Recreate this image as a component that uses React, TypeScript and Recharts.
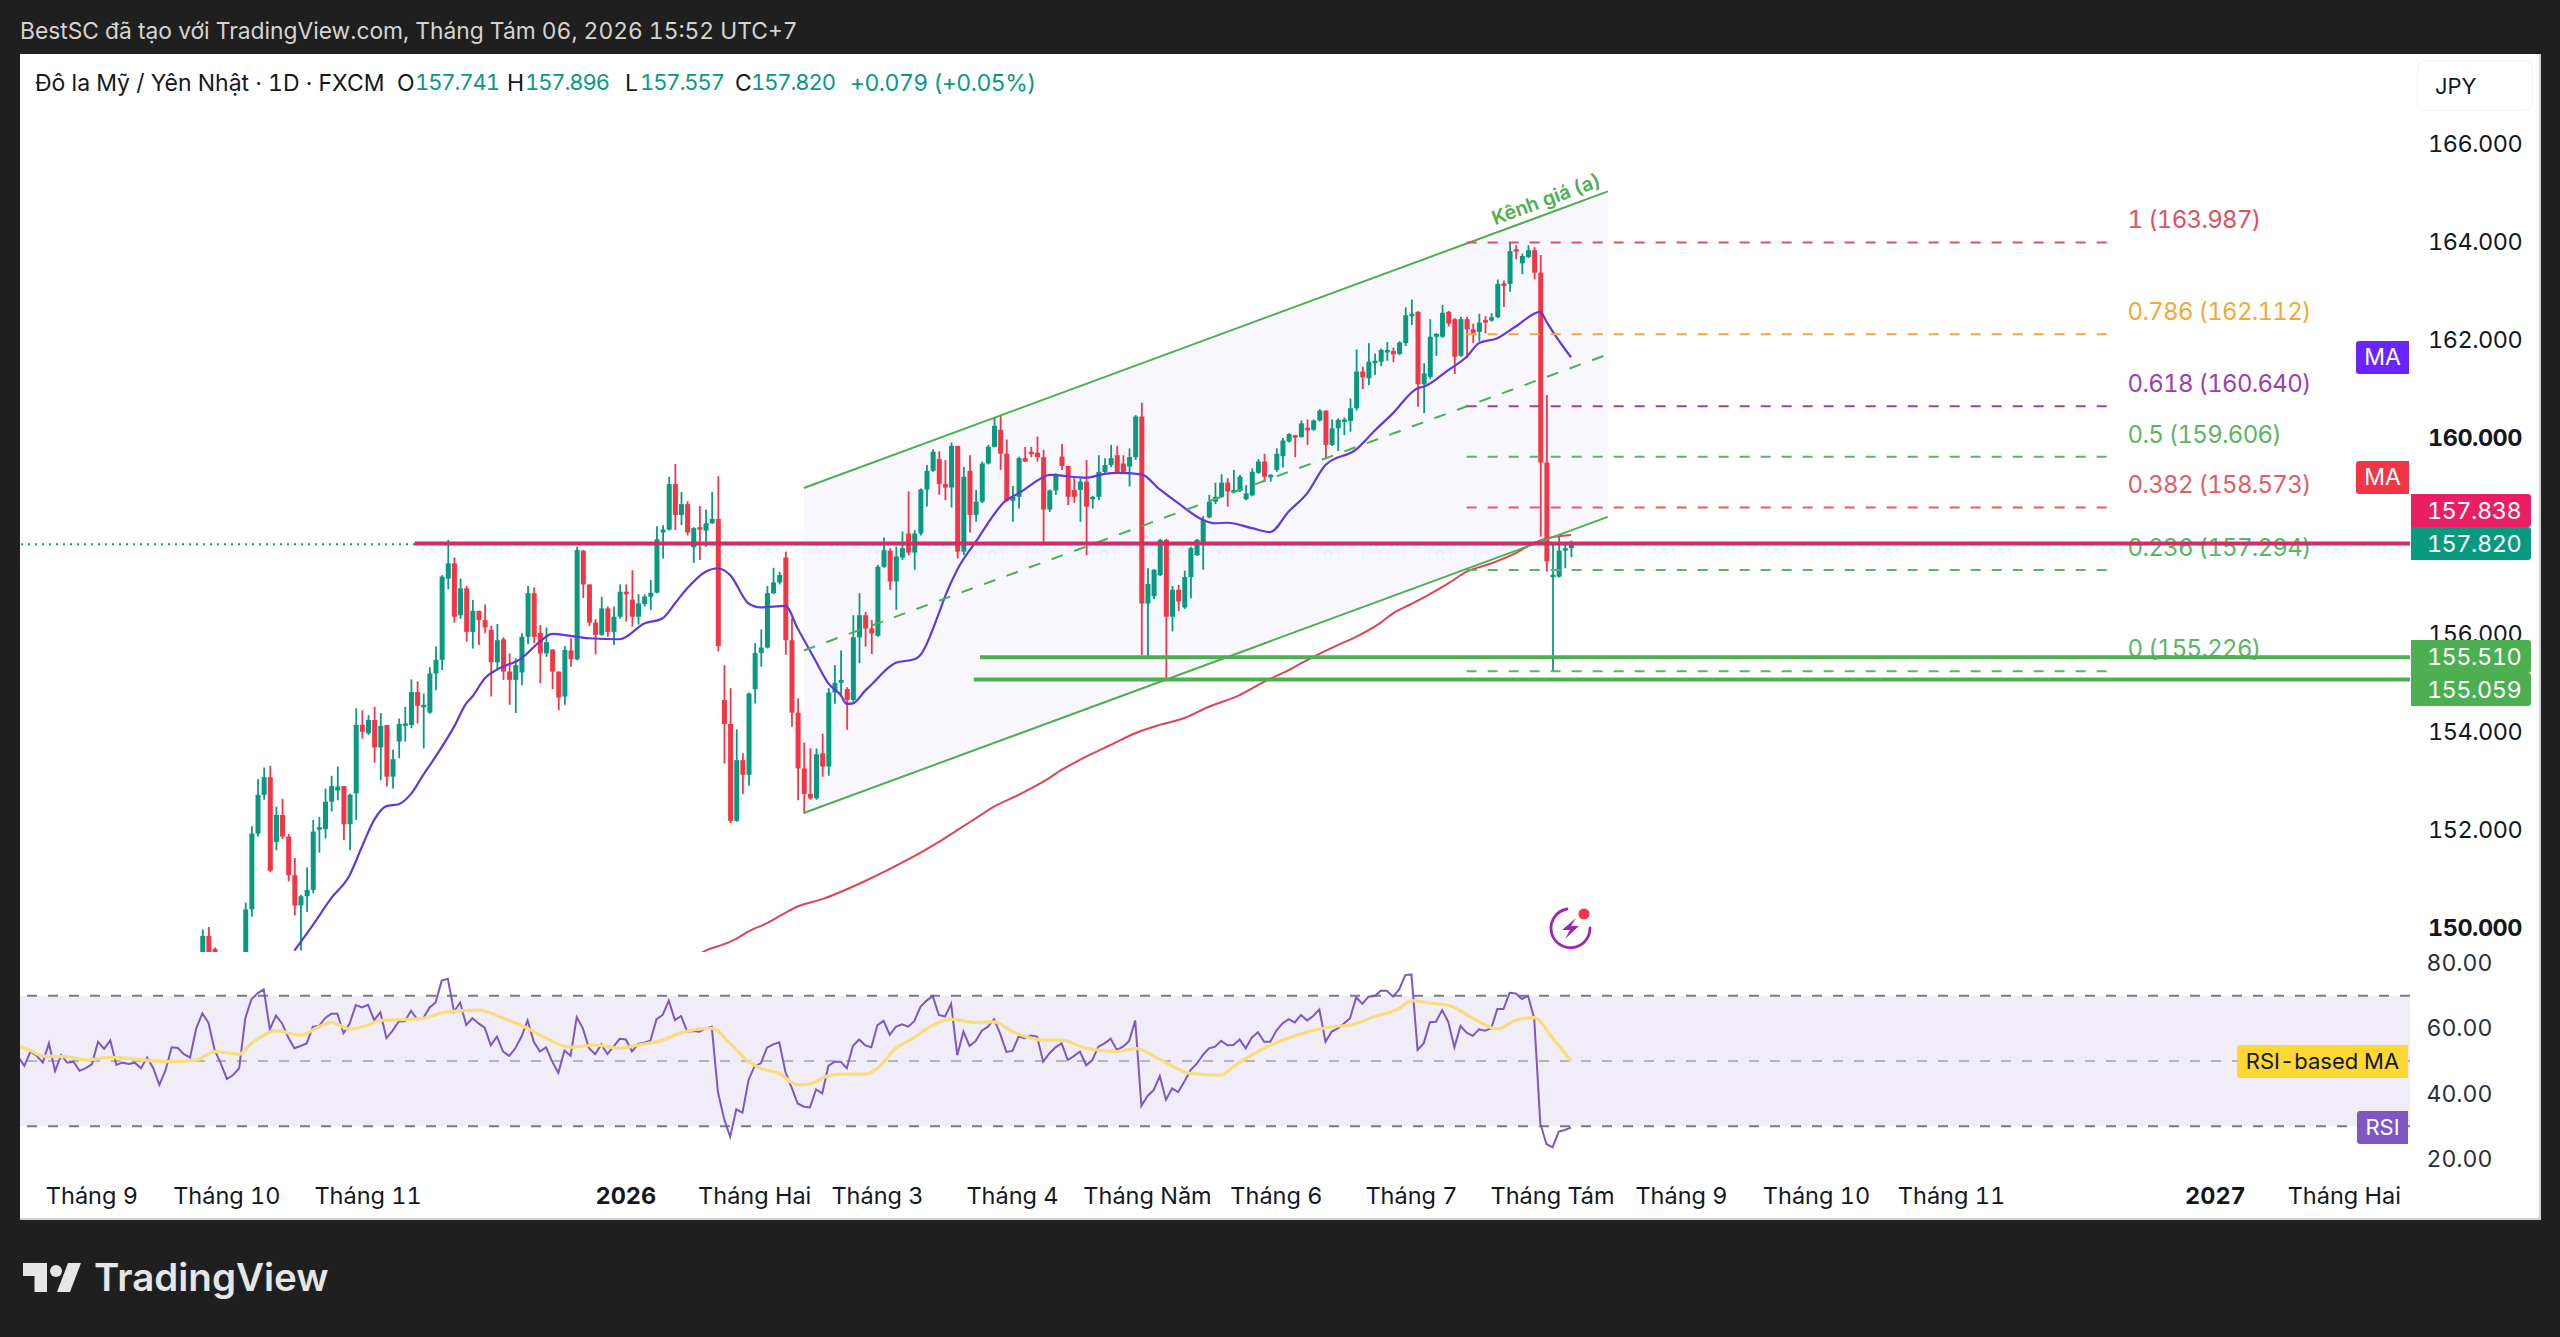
import {
  Area,
  Bar,
  ComposedChart,
  Line,
  ReferenceArea,
  ReferenceLine,
  XAxis,
  YAxis,
} from "recharts";

const FONT = "Inter, 'Noto Sans', sans-serif";
const GREEN = "#089981";
const RED = "#f23645";
const DRAW_GREEN = "#4caf50";

// one bar per trading day, bar 0 = first session of Sep 2025
const firstCandleBar = 18;
// open, high, low, close
const ohlc: (number[] | null)[] = [
  [149.0, 149.95, 148.8, 149.82], [149.82, 150.0, 149.0, 149.3], [149.55, 149.58, 149.0, 149.1],
  null, null, null, null,
  [148.9, 150.5, 148.7, 150.36], [150.36, 152.06, 150.21, 151.91], [151.91, 153.02, 151.85, 152.7],
  [152.7, 153.26, 152.6, 153.06], [153.06, 153.29, 151.12, 151.15], [151.74, 152.46, 151.57, 152.29],
  [152.29, 152.62, 151.8, 151.85], [151.85, 151.9, 150.93, 151.06], [151.06, 151.41, 150.24, 150.44],
  [150.44, 150.66, 149.52, 150.63], [150.63, 151.22, 150.31, 150.76], [150.76, 152.19, 150.69, 151.95],
  [152.0, 152.25, 151.52, 152.04], [152.0, 152.83, 151.81, 152.56], [152.56, 153.09, 152.36, 152.88],
  [152.79, 153.28, 152.59, 152.87], [152.88, 152.88, 151.78, 152.1], [152.1, 152.73, 151.57, 152.7],
  [152.73, 154.47, 152.19, 154.13], [154.13, 154.43, 153.85, 153.99], [153.96, 154.33, 153.92, 154.23],
  [154.23, 154.5, 153.36, 153.67], [153.67, 154.37, 153.0, 154.11], [154.13, 154.13, 152.87, 153.07],
  [153.07, 153.62, 152.83, 153.43], [153.79, 154.26, 153.45, 154.15], [154.15, 154.5, 153.79, 154.16],
  [154.13, 155.06, 154.06, 154.8], [154.8, 155.02, 154.16, 154.52], [154.52, 154.77, 153.65, 154.54],
  [154.38, 155.31, 154.36, 155.18], [155.18, 155.73, 154.84, 155.46], [155.46, 157.19, 155.25, 157.16],
  [157.12, 157.91, 156.9, 157.43], [157.43, 157.55, 156.22, 156.34], [156.37, 157.12, 156.3, 156.92],
  [156.92, 156.97, 155.83, 156.03], [156.03, 156.68, 155.69, 156.46], [156.46, 156.46, 155.76, 156.27],
  [156.27, 156.59, 156.01, 156.12], [156.07, 156.15, 154.71, 155.41], [155.41, 156.19, 155.25, 155.86],
  [155.88, 155.92, 155.05, 155.22], [155.22, 155.59, 154.54, 155.05], [155.05, 155.49, 154.37, 155.35],
  [155.2, 156.0, 154.94, 155.93], [155.93, 156.97, 155.78, 156.82], [156.82, 156.94, 155.8, 155.93],
  [156.01, 156.17, 154.98, 155.59], [155.59, 156.12, 155.52, 155.82], [155.67, 155.67, 154.86, 155.22],
  [155.22, 155.22, 154.43, 154.69], [154.71, 155.74, 154.54, 155.66], [155.65, 155.9, 155.32, 155.47],
  [155.47, 157.77, 155.45, 157.7], [157.69, 157.7, 156.72, 157.0], [157.0, 157.0, 156.15, 156.22],
  [156.22, 156.29, 155.57, 155.97], [155.97, 156.75, 155.95, 156.51], [156.51, 156.55, 155.93, 156.03],
  [156.03, 156.55, 155.76, 156.34], [156.34, 157.0, 156.3, 156.85], [156.85, 157.0, 156.24, 156.82],
  [156.69, 157.29, 156.14, 156.34], [156.34, 156.8, 156.18, 156.61], [156.6, 156.8, 156.55, 156.75],
  [156.75, 157.09, 156.48, 156.83], [156.83, 158.19, 156.82, 157.92], [158.06, 158.21, 157.53, 158.12],
  [158.12, 159.2, 158.1, 159.05], [159.05, 159.46, 158.11, 158.42], [158.42, 158.89, 158.21, 158.64],
  [158.64, 158.7, 158.0, 158.06], [157.76, 158.17, 157.44, 158.15], [158.17, 158.6, 157.5, 158.15],
  [158.1, 158.53, 157.77, 158.25], [158.25, 158.89, 158.24, 158.34], [158.34, 159.21, 155.63, 155.74],
  [154.64, 155.35, 153.34, 154.15], [154.15, 154.88, 152.12, 152.17], [152.17, 154.04, 152.15, 153.41],
  [153.41, 153.55, 152.72, 153.11], [153.11, 154.79, 152.89, 154.77], [154.86, 155.8, 154.57, 155.6],
  [155.6, 156.08, 155.32, 155.71], [155.71, 156.97, 155.69, 156.82], [156.82, 157.34, 156.8, 157.04],
  [157.04, 157.26, 157.0, 157.19], [157.55, 157.67, 155.56, 155.86], [155.86, 156.31, 154.09, 154.38],
  [154.38, 154.67, 152.59, 153.24], [153.24, 153.77, 152.32, 152.72], [152.72, 153.65, 152.6, 152.63],
  [152.63, 153.65, 152.6, 153.53], [153.55, 153.95, 153.07, 153.28], [153.28, 154.88, 153.09, 154.79],
  [154.79, 155.35, 154.56, 154.99], [154.99, 155.65, 154.71, 155.05], [154.86, 154.9, 154.03, 154.64],
  [154.64, 156.37, 154.6, 155.92], [155.92, 156.82, 155.39, 156.37], [156.37, 156.44, 155.73, 156.1],
  [156.1, 156.27, 155.58, 156.0], [155.95, 157.4, 155.93, 157.36], [157.36, 157.96, 157.34, 157.7],
  [157.69, 157.74, 156.89, 157.06], [157.06, 157.77, 156.48, 157.57], [157.55, 158.08, 157.5, 157.74],
  [158.04, 158.9, 157.6, 157.65], [157.65, 158.11, 157.3, 158.04], [158.04, 158.96, 158.0, 158.94],
  [158.94, 159.44, 158.59, 159.32], [159.32, 159.76, 159.3, 159.71], [159.56, 159.72, 158.83, 159.05],
  [159.05, 159.54, 158.72, 158.98], [158.98, 159.9, 158.57, 159.83], [159.83, 159.83, 157.53, 157.67],
  [157.67, 159.4, 157.6, 159.2], [159.32, 159.64, 158.06, 158.42], [158.42, 158.93, 158.28, 158.69],
  [158.69, 159.51, 158.66, 159.47], [159.47, 159.85, 159.45, 159.81], [159.81, 160.41, 159.8, 160.24],
  [160.16, 160.46, 159.34, 159.67], [159.67, 159.96, 158.69, 158.71], [158.71, 159.01, 158.28, 158.79],
  [158.79, 159.61, 158.55, 159.58], [159.58, 159.81, 159.5, 159.51], [159.71, 159.81, 159.6, 159.69],
  [159.69, 160.02, 159.51, 159.6], [159.6, 159.75, 157.87, 158.53], [158.53, 158.94, 158.48, 158.92],
  [158.92, 159.27, 158.83, 159.24], [159.61, 159.87, 159.34, 159.42], [159.42, 159.42, 158.62, 158.79],
  [158.93, 159.17, 158.67, 158.79], [158.93, 159.17, 158.28, 159.1], [159.1, 159.54, 157.6, 158.59],
  [158.74, 158.81, 158.55, 158.79], [158.79, 159.64, 158.72, 159.3], [159.3, 159.58, 159.28, 159.44],
  [159.44, 159.85, 159.4, 159.58], [159.64, 159.83, 159.27, 159.3], [159.47, 159.64, 159.28, 159.3],
  [159.41, 159.78, 159.0, 159.6], [159.6, 160.46, 159.54, 160.43], [160.43, 160.71, 155.56, 156.61],
  [156.61, 157.33, 155.52, 157.01], [156.76, 157.31, 156.7, 157.3], [157.19, 157.93, 157.17, 157.91],
  [157.91, 157.93, 155.06, 156.34], [156.34, 156.97, 156.04, 156.89], [156.89, 156.99, 156.46, 156.65],
  [156.53, 157.28, 156.5, 157.15], [157.15, 157.77, 156.72, 157.74], [157.6, 157.93, 157.58, 157.91],
  [157.84, 158.4, 157.3, 158.32], [158.37, 158.83, 158.35, 158.69], [158.69, 159.08, 158.64, 158.79],
  [158.79, 159.25, 158.77, 159.08], [159.08, 159.17, 158.59, 158.9], [158.9, 159.34, 158.88, 158.93],
  [158.91, 159.24, 158.89, 159.2], [158.74, 159.03, 158.72, 158.86], [158.82, 159.37, 158.8, 159.3],
  [159.28, 159.56, 159.26, 159.51], [159.51, 159.67, 159.1, 159.2], [159.21, 159.25, 159.1, 159.24],
  [159.34, 159.78, 159.3, 159.67], [159.62, 159.99, 159.39, 159.94], [159.92, 160.09, 159.9, 160.07],
  [160.05, 160.05, 159.6, 160.02], [160.01, 160.35, 160.0, 160.29], [160.2, 160.37, 159.85, 160.18],
  [160.16, 160.37, 160.14, 160.35], [160.35, 160.58, 160.33, 160.55], [160.55, 160.56, 159.56, 159.85],
  [159.85, 160.37, 159.83, 160.19], [160.19, 160.39, 159.73, 160.36], [160.34, 160.41, 160.05, 160.37],
  [160.34, 160.8, 160.12, 160.6], [160.6, 161.8, 160.55, 161.35], [161.35, 161.45, 160.99, 161.23],
  [161.21, 161.93, 161.07, 161.55], [161.55, 161.72, 161.28, 161.57], [161.55, 161.82, 161.46, 161.79],
  [161.77, 161.95, 161.57, 161.79], [161.77, 161.84, 161.54, 161.7], [161.71, 161.97, 161.68, 161.94],
  [161.93, 162.66, 161.87, 162.5], [162.5, 162.82, 162.3, 162.53], [162.57, 162.58, 160.63, 161.09],
  [161.09, 161.52, 160.5, 161.31], [161.24, 162.42, 161.2, 162.06], [162.06, 162.13, 161.67, 162.12],
  [162.06, 162.71, 162.04, 162.55], [162.57, 162.59, 162.27, 162.33], [162.42, 162.44, 161.3, 161.65],
  [161.67, 162.47, 161.65, 162.42], [162.42, 162.47, 161.62, 162.21], [162.21, 162.33, 161.93, 162.13],
  [162.16, 162.53, 161.96, 162.35], [162.4, 162.48, 162.13, 162.38], [162.39, 162.54, 162.37, 162.46],
  [162.46, 163.23, 162.44, 163.14], [163.15, 163.21, 162.67, 163.13], [163.14, 163.98, 162.98, 163.81],
  [163.85, 163.93, 163.64, 163.82], [163.56, 163.76, 163.34, 163.71], [163.69, 163.93, 163.67, 163.83],
  [163.83, 163.89, 163.23, 163.37], [163.37, 163.73, 157.98, 159.49], [159.49, 160.87, 157.26, 157.47],
  [157.18, 157.84, 155.226, 157.2], [157.16, 157.99, 157.14, 157.69], [157.69, 157.84, 157.33, 157.74],
  [157.741, 157.896, 157.557, 157.82],
];

const fastMaBars = [33, 36, 39, 42, 44, 46, 48, 50, 52, 54, 56, 59, 61, 62, 64, 66, 70, 73, 75, 78, 81, 86, 90, 93, 95, 97, 100, 102, 104, 107, 109, 113, 115, 118, 120, 122, 123, 124, 126, 127, 130, 131, 134, 135, 138, 139, 141, 144, 149, 151, 155, 156, 162, 165, 167, 171, 174, 177, 181, 183, 185, 189, 192, 195, 198, 201, 206, 209, 212, 216, 217, 221, 224, 226, 229, 232, 236, 237, 238, 241];
const fastMaValues = [149.52, 150.04, 150.59, 151.06, 151.64, 152.19, 152.47, 152.51, 152.72, 153.11, 153.48, 154.09, 154.57, 154.71, 155.08, 155.26, 155.49, 155.83, 155.99, 155.95, 155.9, 155.88, 156.2, 156.31, 156.61, 156.92, 157.26, 157.33, 157.19, 156.61, 156.53, 156.56, 156.1, 155.42, 154.98, 154.74, 154.56, 154.57, 154.83, 154.95, 155.32, 155.4, 155.47, 155.56, 156.41, 156.75, 157.3, 157.87, 158.72, 158.86, 159.19, 159.24, 159.18, 159.26, 159.28, 159.25, 158.94, 158.66, 158.32, 158.25, 158.26, 158.15, 158.07, 158.49, 158.86, 159.44, 159.76, 160.14, 160.5, 161.01, 161.04, 161.38, 161.65, 161.93, 162.03, 162.27, 162.57, 162.37, 162.17, 161.64];

const slowMaBars = [99, 100, 103, 105, 107, 110, 113, 115, 119, 126, 133, 138, 141, 144, 147, 151, 155, 158, 162, 166, 170, 174, 178, 182, 187, 191, 195, 199, 203, 206, 210, 212, 215, 218, 221, 224, 228, 232, 235, 237, 241];
const slowMaValues = [149.45, 149.52, 149.65, 149.76, 149.91, 150.08, 150.29, 150.42, 150.57, 150.94, 151.38, 151.74, 151.98, 152.22, 152.46, 152.7, 152.97, 153.21, 153.48, 153.72, 153.96, 154.13, 154.27, 154.5, 154.74, 155.01, 155.25, 155.52, 155.76, 155.93, 156.22, 156.41, 156.6, 156.8, 157.02, 157.26, 157.43, 157.64, 157.85, 157.94, 158.01];

// RSI starts at the left edge of the pane
const firstRsiBar = -12;
const rsiValues = [
  51.3, 48.5, 52.9, 51.6, 49.5, 55.4, 46.9, 51.8, 49.5, 49.8, 47.0, 47.8, 49.0, 55.9, 53.7, 56.3, 48.8, 49.5, 49.1, 49.5,
  47.8, 51.1, 47.8, 42.7, 47.2, 54.2, 54.0, 52.1, 51.1, 60.0, 64.6, 61.7, 53.4, 49.3, 44.5, 45.7, 47.8, 63.1, 68.9, 70.7,
  71.9, 59.7, 63.9, 61.5, 57.2, 53.9, 54.6, 55.4, 60.5, 60.7, 63.1, 64.5, 64.5, 58.5, 61.5, 67.1, 66.4, 67.2, 62.5, 64.9,
  57.0, 59.3, 62.1, 62.2, 65.4, 62.8, 63.1, 66.3, 67.9, 74.6, 75.2, 65.1, 67.9, 61.0, 63.1, 61.5, 60.2, 54.8, 57.5, 52.9,
  51.6, 53.9, 57.5, 62.4, 55.9, 52.9, 54.2, 49.8, 46.4, 53.2, 51.6, 63.4, 60.0, 53.9, 52.1, 55.1, 52.1, 54.4, 56.8, 56.6,
  52.9, 55.2, 55.6, 56.2, 62.8, 64.1, 68.5, 62.5, 63.8, 59.0, 59.2, 59.0, 60.0, 60.5, 40.6, 32.4, 26.8, 35.2, 34.2, 44.2,
  48.5, 49.3, 54.1, 55.1, 55.7, 46.7, 41.9,
  37.0, 36.0, 35.8, 41.3, 40.1, 48.5, 49.8, 49.8, 47.8, 54.6, 56.6, 54.8, 54.2, 61.0, 62.3, 58.0, 60.5, 61.2, 60.5, 62.2,
  66.6, 68.5, 69.9, 64.1, 63.6, 67.5, 51.8, 59.0, 54.6, 56.1, 59.3, 60.5, 62.8, 58.3, 52.8, 53.1, 57.5, 57.0, 57.8, 57.5,
  49.8, 52.3, 54.2, 55.4, 50.3, 51.5, 52.9, 48.7, 50.3, 54.4, 55.4, 56.8, 53.4, 54.4, 56.1, 62.4, 36.3, 39.3, 41.1, 45.4,
  38.1, 41.6, 40.5, 43.7, 47.2, 49.1, 51.8, 53.9, 54.4, 56.2, 54.8, 54.9, 56.6, 53.9, 57.2, 58.8, 55.9, 55.9, 59.3, 61.5,
  62.8, 61.8, 64.1, 62.4, 63.8, 65.8, 55.9, 59.0, 60.0, 61.5, 63.1, 69.5, 67.5, 69.7, 69.9, 71.5, 71.5, 69.7, 71.9, 76.3,
  76.5, 53.4, 55.4, 61.9, 62.0, 65.6, 62.0, 54.2, 60.7, 58.7, 57.7, 59.7, 59.3, 60.0, 65.9, 65.9, 70.9, 70.7, 69.0, 69.9,
  63.1, 30.9, 24.6, 23.6, 28.4, 28.9, 29.6,
];

const rsiMaBars = [-12, -10, -8, -4, -1, 3, 7, 12, 17, 20, 24, 26, 28, 30, 34, 37, 39, 42, 45, 47, 52, 54, 58, 63, 67, 71, 74, 78, 82, 86, 89, 93, 96, 101, 104, 107, 109, 112, 115, 117, 120, 122, 126, 128, 131, 134, 137, 140, 144, 147, 150, 155, 158, 162, 167, 170, 174, 179, 184, 186, 191, 197, 202, 205, 209, 213, 215, 218, 221, 225, 229, 232, 235, 238, 241];
const rsiMaValues = [54.6, 53.2, 51.5, 51.3, 50.3, 51.1, 50.6, 49.8, 50.3, 52.9, 52.1, 55.4, 57.9, 59.3, 57.9, 60.5, 61.8, 59.8, 61.0, 62.4, 62.8, 63.1, 65.1, 65.6, 63.1, 60.0, 57.0, 54.2, 54.9, 53.9, 54.9, 56.4, 58.7, 60.0, 55.4, 49.8, 47.8, 46.2, 42.7, 43.0, 45.5, 46.0, 46.0, 47.8, 53.9, 57.2, 61.0, 62.8, 61.8, 62.0, 59.0, 56.4, 56.4, 53.9, 52.9, 53.9, 50.5, 46.2, 45.7, 48.3, 53.9, 58.3, 60.5, 61.0, 63.6, 66.1, 68.5, 67.7, 67.1, 63.1, 59.8, 62.5, 63.3, 57.0, 50.0];

// 158 is hidden on the real scale, the price tags sit on it
const priceTicks = [150, 152, 154, 156, 160, 162, 164, 166];
const boldPriceTicks = [150, 160];
const rsiTicks = [20, 40, 60, 80];
const timeTickBars = [0, 22, 45, 87, 108, 128, 150, 172, 193, 215, 238, 259, 281, 303, 346, 367];
const timeTickLabels = ["Tháng 9", "Tháng 10", "Tháng 11", "2026", "Tháng Hai", "Tháng 3", "Tháng 4", "Tháng Năm", "Tháng 6", "Tháng 7", "Tháng Tám", "Tháng 9", "Tháng 10", "Tháng 11", "2027", "Tháng Hai"];

// fibonacci retracement drawn over the last leg
const fibBars = [224, 329.4];
const fibLevels = [163.987, 162.112, 160.64, 159.606, 158.573, 157.294, 155.226];
const fibNames = ["1", "0.786", "0.618", "0.5", "0.382", "0.236", "0"];
const fibColors = ["#e0505f", "#f2a93b", "#9c3fb0", "#5cb564", "#e45c66", "#5cb564", "#5cb564"];

// price channel: start and end bar, then low and high edge
const channelBars = [116, 247];
const channelLow = [152.33, 158.38];
const channelMid = [155.65, 161.7];
const channelHigh = [158.97, 165.03];

const BAR_MIN = -11.71;
const BAR_MAX = 377.7;

const rows: any[] = [];
for (let bar = firstCandleBar; bar <= channelBars[1]; bar++) {
  const c = ohlc[bar - firstCandleBar];
  rows.push({
    bar,
    range: c ? [c[2], c[1]] : null,
    open: c ? c[0] : null,
    close: c ? c[3] : null,
  });
}
fastMaBars.forEach((b, k) => { rows[b - firstCandleBar].maFast = fastMaValues[k]; });
slowMaBars.forEach((b, k) => { rows[b - firstCandleBar].maSlow = slowMaValues[k]; });
channelBars.forEach((b, k) => { rows[b - firstCandleBar].band = [channelLow[k], channelHigh[k]]; });

const rsiRows: any[] = rsiValues.map((rsi, k) => ({ bar: firstRsiBar + k, rsi }));
rsiMaBars.forEach((b, k) => { rsiRows[b - firstRsiBar].rsiMa = rsiMaValues[k]; });

const Candle = (props: any) => {
  const { x, y, width, height, payload } = props;
  if (!payload.range) return null;
  const [low, high] = payload.range;
  const perUnit = height / (high - low);
  const up = payload.close >= payload.open;
  const color = up ? GREEN : RED;
  const top = y + (high - Math.max(payload.open, payload.close)) * perUnit;
  const bodyH = Math.max(Math.abs(payload.close - payload.open) * perUnit, 2.5);
  const cx = x + width / 2;
  return (
    <g>
      <line x1={cx} x2={cx} y1={y} y2={y + height} stroke={color} strokeWidth={1.8} />
      <rect x={x} y={top} width={width} height={bodyH} fill={color} />
    </g>
  );
};

const PriceTick = ({ x, y, payload }: any) => (
  <text
    x={x + 10}
    y={y + 8.5}
    fontFamily={FONT}
    fontSize={23.5}
    letterSpacing={-0.5}
    fontWeight={boldPriceTicks.includes(payload.value) ? 700 : 400}
    fill="#131722"
  >
    {payload.value.toFixed(3)}
  </text>
);

const RsiTick = ({ x, y, payload }: any) => (
  <text x={x + 8.5} y={y + 8} fontFamily={FONT} fontSize={23} fill="#2a2e39">
    {payload.value.toFixed(2)}
  </text>
);

const TimeTick = ({ x, y, payload }: any) => {
  const label = timeTickLabels[timeTickBars.indexOf(payload.value)];
  const isYear = label && label.startsWith("20");
  return (
    <text
      x={x}
      y={y + 26}
      textAnchor="middle"
      fontFamily={FONT}
      fontSize={23.5}
      fontWeight={isYear ? 700 : 400}
      fill="#131722"
    >
      {label}
    </text>
  );
};

const fibLabel = (k: number) => (p: any) => (
  <text
    x={p.viewBox.x + p.viewBox.width + 14}
    y={p.viewBox.y - 14}
    fontFamily={FONT}
    fontSize={24}
    letterSpacing={-0.7}
    fill={fibColors[k]}
  >
    {`${fibNames[k]} (${fibLevels[k].toFixed(3)})`}
  </text>
);

const Badge = ({ top, left, width, height, bg, color, text, size, radius, indent }: any) => (
  <div
    style={{
      position: "absolute",
      top,
      left,
      width,
      height,
      lineHeight: `${height}px`,
      background: bg,
      color,
      fontSize: size,
      textAlign: "center",
      textIndent: indent || 0,
      borderRadius: radius,
      letterSpacing: indent ? -0.5 : 0,
    }}
  >
    {text}
  </div>
);

const legendParts: [string, number, string, number, number][] = [
  ["Đô la Mỹ / Yên Nhật · 1D · FXCM", 35, "#131722", 23, 0],
  ["O", 397, "#131722", 23, 0],
  ["157.741", 415, GREEN, 22, -1.1],
  ["H", 507, "#131722", 23, 0],
  ["157.896", 525, GREEN, 22, -1.1],
  ["L", 625, "#131722", 23, 0],
  ["157.557", 640, GREEN, 22, -1.1],
  ["C", 735, "#131722", 23, 0],
  ["157.820", 751, GREEN, 22, -1.1],
  ["+0.079 (+0.05%)", 850, GREEN, 23, -0.5],
];

export default function App() {
  return (
    <div
      style={{
        position: "fixed",
        left: 0,
        top: 0,
        width: 2560,
        height: 1337,
        background: "#1f1f1f",
        overflow: "hidden",
        fontFamily: FONT,
        fontVariantNumeric: "tabular-nums",
      }}
    >
      <div style={{ position: "absolute", left: 20, top: 17, fontSize: 22.8, color: "#d4d4d4", whiteSpace: "nowrap" }}>
        BestSC đã tạo với TradingView.com, Tháng Tám 06, 2026 15:52 UTC+7
      </div>

      <div
        style={{
          position: "absolute",
          left: 20,
          top: 54,
          width: 2521,
          height: 1166,
          background: "#fff",
          boxShadow: "inset -2px -2px 0 #cfcfcf",
        }}
      />

      <div style={{ position: "absolute", left: 20, top: 54 }}>
        <ComposedChart
          width={2521}
          height={898}
          data={rows}
          margin={{ top: 0, right: 0, bottom: 0, left: 0 }}
        >
          <XAxis dataKey="bar" type="number" domain={[BAR_MIN, BAR_MAX]} allowDataOverflow hide />
          <YAxis
            orientation="right"
            width={131}
            domain={[149.49, 167.837]}
            ticks={priceTicks}
            allowDataOverflow
            axisLine={false}
            tickLine={false}
            interval={0}
            tick={<PriceTick />}
          />
          <Area dataKey="band" connectNulls stroke="none" fill="#f8f7fe" fillOpacity={1} isAnimationActive={false} dot={false} activeDot={false} />
          <Bar dataKey="range" barSize={5} shape={<Candle />} isAnimationActive={false} />
          <Line dataKey="maFast" type="monotone" connectNulls dot={false} stroke="#6438d8" strokeWidth={2.2} isAnimationActive={false} />
          <Line dataKey="maSlow" type="monotone" connectNulls dot={false} stroke="#de4552" strokeWidth={2} isAnimationActive={false} />

          <ReferenceLine
            segment={[{ x: channelBars[0], y: channelHigh[0] }, { x: channelBars[1], y: channelHigh[1] }]}
            stroke={DRAW_GREEN}
            strokeWidth={2}
          />
          <ReferenceLine
            segment={[{ x: channelBars[0], y: channelLow[0] }, { x: channelBars[1], y: channelLow[1] }]}
            stroke={DRAW_GREEN}
            strokeWidth={2}
          />
          <ReferenceLine
            segment={[{ x: channelBars[0], y: channelMid[0] }, { x: channelBars[1], y: channelMid[1] }]}
            stroke={DRAW_GREEN}
            strokeWidth={2}
            strokeDasharray="12 12"
          />
          {fibLevels.map((level, k) => (
            <ReferenceLine
              key={level}
              segment={[{ x: fibBars[0], y: level }, { x: fibBars[1], y: level }]}
              stroke={fibColors[k]}
              strokeWidth={2}
              strokeDasharray="10 11"
              label={fibLabel(k)}
            />
          ))}
          <ReferenceLine
            segment={[{ x: 52.6, y: 157.838 }, { x: BAR_MAX, y: 157.838 }]}
            stroke="#e91e63"
            strokeWidth={4}
          />
          <ReferenceLine y={157.82} stroke={GREEN} strokeWidth={2} strokeDasharray="2 5" />
          <ReferenceLine
            segment={[{ x: 144.7, y: 155.51 }, { x: BAR_MAX, y: 155.51 }]}
            stroke={DRAW_GREEN}
            strokeWidth={4}
          />
          <ReferenceLine
            segment={[{ x: 143.7, y: 155.059 }, { x: BAR_MAX, y: 155.059 }]}
            stroke={DRAW_GREEN}
            strokeWidth={4}
          />
        </ComposedChart>
      </div>

      <div style={{ position: "absolute", left: 20, top: 952 }}>
        <ComposedChart
          width={2521}
          height={268}
          data={rsiRows}
          margin={{ top: 0, right: 0, bottom: 0, left: 0 }}
        >
          <XAxis
            dataKey="bar"
            type="number"
            domain={[BAR_MIN, BAR_MAX]}
            allowDataOverflow
            ticks={timeTickBars}
            interval={0}
            height={50}
            axisLine={false}
            tickLine={false}
            tick={<TimeTick />}
          />
          <YAxis
            orientation="right"
            width={131}
            domain={[16.64, 83.37]}
            ticks={rsiTicks}
            allowDataOverflow
            interval={0}
            axisLine={false}
            tickLine={false}
            tick={<RsiTick />}
          />
          <ReferenceArea y1={30} y2={70} fill="#7e57c2" fillOpacity={0.11} stroke="none" />
          <ReferenceLine y={70} stroke="#787b86" strokeWidth={2} strokeDasharray="10 11" />
          <ReferenceLine y={50} stroke="#b2b5be" strokeWidth={2} strokeDasharray="10 11" />
          <ReferenceLine y={30} stroke="#787b86" strokeWidth={2} strokeDasharray="10 11" />
          <Line dataKey="rsi" dot={false} stroke="#7e57c2" strokeWidth={2} isAnimationActive={false} />
          <Line dataKey="rsiMa" type="monotone" connectNulls dot={false} stroke="#f7de7c" strokeWidth={3.2} isAnimationActive={false} />
        </ComposedChart>
      </div>

      {legendParts.map(([text, left, color, size, spacing]) => (
        <div
          key={text + left}
          style={{ position: "absolute", left, top: 69, fontSize: size, letterSpacing: spacing, color, whiteSpace: "nowrap" }}
        >
          {text}
        </div>
      ))}

      <div
        style={{
          position: "absolute",
          left: 2417,
          top: 60,
          width: 116,
          height: 51,
          lineHeight: "50px",
          boxSizing: "border-box",
          border: "1px solid #f3f3f3",
          borderRadius: 9,
          fontSize: 22,
          color: "#131722",
          paddingLeft: 17,
        }}
      >
        JPY
      </div>

      <div
        style={{
          position: "absolute",
          left: 1489,
          top: 187,
          fontSize: 19.5,
          fontWeight: 600,
          color: DRAW_GREEN,
          transform: "rotate(-20.2deg)",
          whiteSpace: "nowrap",
        }}
      >
        Kênh giá (a)
      </div>

      <Badge top={341} left={2356} width={53} height={33} bg="#6a24ff" color="#fff" text="MA" size={23} radius="3px 0 0 3px" />
      <Badge top={461} left={2356} width={53} height={33} bg="#f23645" color="#fff" text="MA" size={23} radius="3px 0 0 3px" />
      <Badge top={494} left={2411} width={120} height={33} bg="#e91e63" color="#fff" text="157.838" size={23.5} radius="0 3px 3px 0" indent={6} />
      <Badge top={527} left={2411} width={120} height={33} bg={GREEN} color="#fff" text="157.820" size={23.5} radius="0 3px 3px 0" indent={6} />
      <Badge top={640} left={2411} width={120} height={33} bg={DRAW_GREEN} color="#fff" text="155.510" size={23.5} radius="0 3px 3px 0" indent={6} />
      <Badge top={673} left={2411} width={120} height={33} bg={DRAW_GREEN} color="#fff" text="155.059" size={23.5} radius="0 3px 3px 0" indent={6} />
      <Badge top={1045} left={2237} width={171} height={33} bg="#fdd835" color="#131722" text="RSI-based MA" size={22} radius="3px 0 0 3px" />
      <Badge top={1111} left={2357} width={51} height={33} bg="#7e57c2" color="#fff" text="RSI" size={22} radius="3px 0 0 3px" />

      <svg style={{ position: "absolute", left: 1540, top: 898 }} width={60} height={60}>
        <path d="M 27 11 A 19.5 19.5 0 1 0 50 30" fill="none" stroke="#9c27b0" strokeWidth={2.8} strokeLinecap="round" />
        <path d="M 36 20 L 22 32 L 30 32 L 25 41 L 39 28 L 31 28 Z" fill="#9c27b0" />
        <circle cx={44} cy={16} r={5.5} fill="#f23645" />
      </svg>

      <svg style={{ position: "absolute", left: 20, top: 1260 }} width={70} height={36}>
        <path d="M3 3 H27 V32 H14.5 V16 H3 Z" fill="#e6e6e6" />
        <circle cx={36} cy={11} r={6} fill="#e6e6e6" />
        <path d="M48 3 H61 L50 32 H37 Z" fill="#e6e6e6" />
      </svg>
      <div
        style={{
          position: "absolute",
          left: 94,
          top: 1254,
          fontSize: 38.5,
          fontWeight: 600,
          color: "#e6e6e6",
          whiteSpace: "nowrap",
        }}
      >
        TradingView
      </div>
    </div>
  );
}
